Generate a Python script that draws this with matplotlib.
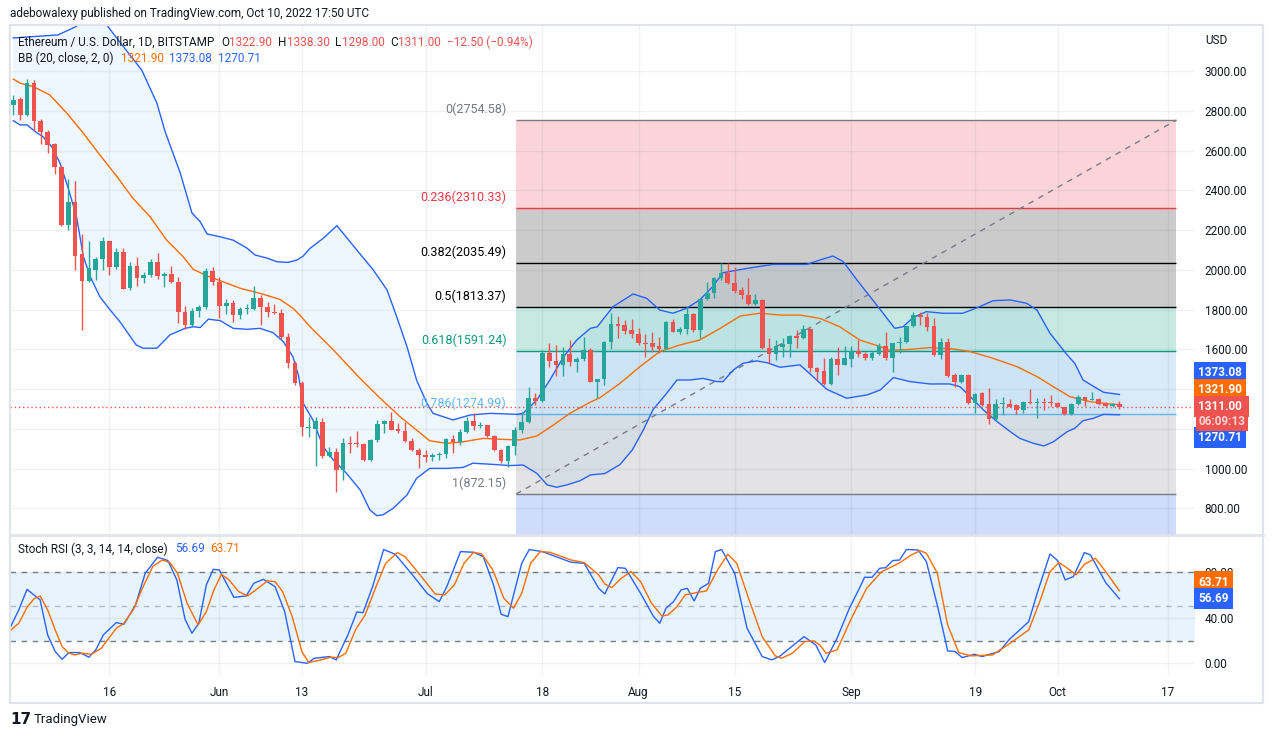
import matplotlib.pyplot as plt
import matplotlib.patches as mpatches
from matplotlib.lines import Line2D
import numpy as np
import pandas as pd

plt.rcParams["font.family"] = ["Roboto", "DejaVu Sans"]

W, H = 1273, 738
start = "2022-05-02"

# daily candles, 2 May .. 10 Oct 2022 (ETH/USD, Bitstamp)
opens = [2828, 2858, 2780, 2940, 2748, 2692, 2632, 2520, 2226, 2344,
         2080, 1946, 2000, 2055, 2146, 2017, 2090, 1910, 2020, 1957,
         1975, 2042, 1970, 1978, 1940, 1790, 1722, 1795, 1815, 1996,
         1940, 1818, 1832, 1772, 1802, 1805, 1858, 1812, 1790, 1785,
         1660, 1530, 1432, 1203, 1199, 1236, 1065, 1082, 993, 1128,
         1128, 1124, 1044, 1144, 1223, 1241, 1197, 1188, 1141, 1095,
         1068, 1058, 1066, 1073, 1149, 1132, 1186, 1240, 1213, 1217,
         1164, 1096, 1036, 1112, 1192, 1233, 1354, 1339, 1580, 1540,
         1520, 1578, 1538, 1552, 1597, 1438, 1450, 1639, 1728, 1723,
         1697, 1678, 1631, 1630, 1617, 1603, 1736, 1690, 1703, 1778,
         1698, 1854, 1886, 1961, 1986, 1936, 1897, 1876, 1829, 1849,
         1609, 1575, 1614, 1626, 1668, 1656, 1701, 1505, 1490, 1424,
         1552, 1522, 1553, 1592, 1577, 1555, 1577, 1617, 1555, 1631,
         1637, 1718, 1775, 1765, 1716, 1572, 1639, 1470, 1434, 1471,
         1332, 1378, 1325, 1248, 1324, 1327, 1320, 1295, 1337, 1329,
         1334, 1337, 1332, 1312, 1273, 1325, 1359, 1345, 1348, 1332,
         1315, 1322.9]
highs = [2880, 2870, 2963, 2955, 2760, 2705, 2640, 2530, 2458, 2448,
         2181, 2146, 2067, 2168, 2146, 2110, 2110, 2040, 2066, 1991,
         2055, 2085, 1990, 2020, 1966, 1818, 1807, 1824, 2010, 2013,
         1966, 1852, 1849, 1812, 1827, 1919, 1872, 1837, 1830, 1802,
         1681, 1540, 1440, 1261, 1261, 1253, 1110, 1102, 1152, 1166,
         1191, 1128, 1149, 1245, 1245, 1283, 1230, 1236, 1152, 1102,
         1093, 1077, 1085, 1152, 1169, 1199, 1261, 1278, 1233, 1220,
         1168, 1098, 1119, 1211, 1287, 1410, 1382, 1597, 1630, 1622,
         1614, 1647, 1563, 1664, 1605, 1452, 1642, 1782, 1768, 1748,
         1751, 1706, 1678, 1686, 1661, 1742, 1751, 1715, 1815, 1782,
         1857, 1941, 1966, 2033, 2033, 2017, 1916, 1958, 1877, 1854,
         1659, 1647, 1656, 1672, 1698, 1723, 1706, 1513, 1558, 1563,
         1610, 1617, 1617, 1647, 1585, 1590, 1631, 1689, 1631, 1661,
         1720, 1790, 1790, 1782, 1756, 1656, 1656, 1480, 1475, 1475,
         1380, 1387, 1404, 1349, 1362, 1349, 1323, 1340, 1399, 1354,
         1354, 1371, 1337, 1312, 1329, 1371, 1362, 1384, 1354, 1335,
         1330, 1338.3]
lows = [2780, 2755, 2775, 2700, 2632, 2590, 2485, 2220, 2200, 2000,
        1700, 1940, 1950, 2000, 1976, 2005, 1904, 1900, 1920, 1936,
        1966, 1955, 1912, 1933, 1731, 1701, 1716, 1765, 1803, 1924,
        1757, 1778, 1738, 1752, 1777, 1798, 1724, 1765, 1778, 1651,
        1505, 1421, 1166, 1160, 1015, 1052, 1060, 884, 943, 1077,
        1110, 1040, 1040, 1136, 1178, 1192, 1180, 1136, 1090, 1001,
        1035, 1040, 1043, 1052, 1077, 1119, 1178, 1194, 1205, 1157,
        1090, 1027, 1006, 1068, 1178, 1228, 1320, 1334, 1513, 1468,
        1468, 1516, 1488, 1540, 1436, 1354, 1421, 1600, 1659, 1676,
        1659, 1622, 1563, 1589, 1583, 1600, 1687, 1676, 1676, 1689,
        1659, 1849, 1857, 1950, 1928, 1882, 1854, 1824, 1824, 1602,
        1530, 1547, 1563, 1563, 1609, 1654, 1488, 1446, 1422, 1420,
        1471, 1520, 1513, 1560, 1545, 1548, 1572, 1548, 1488, 1584,
        1630, 1712, 1723, 1694, 1567, 1552, 1459, 1409, 1430, 1325,
        1282, 1317, 1223, 1241, 1270, 1309, 1273, 1282, 1325, 1256,
        1295, 1315, 1308, 1270, 1268, 1320, 1315, 1343, 1320, 1312,
        1312, 1298.0]
closes = [2857, 2780, 2940, 2748, 2692, 2630, 2520, 2226, 2344, 2072,
          1946, 2010, 2055, 2146, 2017, 2090, 1906, 2020, 1957, 1975,
          2042, 1968, 1980, 1940, 1790, 1722, 1795, 1815, 1996, 1940,
          1818, 1832, 1772, 1802, 1805, 1858, 1812, 1787, 1785, 1660,
          1530, 1432, 1211, 1207, 1241, 1065, 1082, 993, 1127, 1124,
          1122, 1044, 1144, 1223, 1241, 1196, 1188, 1141, 1094, 1068,
          1058, 1068, 1073, 1149, 1132, 1186, 1241, 1213, 1219, 1164,
          1096, 1036, 1112, 1192, 1233, 1354, 1339, 1580, 1540, 1520,
          1578, 1538, 1552, 1597, 1438, 1450, 1639, 1728, 1720, 1694,
          1678, 1631, 1628, 1614, 1603, 1736, 1690, 1703, 1778, 1698,
          1854, 1886, 1961, 1986, 1936, 1896, 1874, 1829, 1849, 1605,
          1575, 1617, 1625, 1668, 1656, 1701, 1505, 1488, 1424, 1550,
          1522, 1558, 1592, 1577, 1555, 1580, 1617, 1555, 1631, 1637,
          1718, 1773, 1763, 1714, 1572, 1639, 1468, 1434, 1471, 1332,
          1376, 1321, 1248, 1325, 1327, 1312, 1295, 1337, 1329, 1334,
          1329, 1329, 1312, 1273, 1325, 1359, 1345, 1348, 1325, 1315,
          1323.5, 1311.0]

# Bollinger Bands (20, 2): day index -> price
bb_upper_day = [0, 6.5, 9, 11.5, 13.6, 15.5, 18.7, 20.9, 22.1, 24.3,
                26, 27.2, 28.2, 30.1, 32, 34, 35.2, 36.9, 38.4, 40,
                41.3, 42.2, 43.2, 45.1, 47.1, 50, 52.4, 54.4, 55.8, 57.3,
                58.7, 60.2, 61.1, 64, 66.5, 69.4, 73.3, 74.2, 76.2, 78.1,
                80.1, 82, 84, 85, 87.3, 90.2, 92.2, 94.1, 96, 98,
                99.9, 101.8, 103.3, 106.8, 110.6, 115.5, 117.4, 119.3, 120.8, 122.8,
                124.7, 126.6, 128.3, 129.5, 131, 132.9, 135.3, 138.2, 140.3, 142.6,
                145.1, 147.5, 149, 150.9, 153.4, 154.5, 155.7, 157.7, 158.7, 161]
bb_upper = [3168, 3183, 3223, 3280, 3233, 3147, 3006, 2840, 2696, 2488,
            2287, 2243, 2181, 2167, 2150, 2110, 2075, 2060, 2041, 2038,
            2050, 2070, 2109, 2159, 2223, 2100, 2000, 1899, 1765, 1614,
            1446, 1329, 1278, 1245, 1270, 1278, 1273, 1278, 1345, 1446,
            1563, 1647, 1706, 1714, 1815, 1879, 1857, 1798, 1782, 1807,
            1849, 1916, 1986, 2008, 2028, 2028, 2050, 2070, 2042, 1949,
            1866, 1782, 1706, 1714, 1761, 1790, 1782, 1782, 1810, 1845,
            1849, 1832, 1798, 1681, 1572, 1530, 1446, 1404, 1384, 1373.08]
bb_mid_day = [0, 1, 2.9, 5.3, 7.8, 10.2, 12.6, 15.1, 17.4, 19.9,
              22.3, 24.7, 26.2, 28.2, 30.1, 33, 35.9, 38.8, 40.7, 41.7,
              43.2, 46.6, 50, 53.4, 56.3, 58.7, 60.6, 63.1, 65.5, 68.4,
              71.3, 73.7, 76.2, 78.6, 81, 84, 85.4, 88.3, 91.2, 94.1,
              97, 99.9, 102.9, 105.8, 108.7, 111.6, 114.5, 117.4, 120.3, 123.2,
              126.2, 127.6, 130.5, 133.4, 136.8, 139.3, 142.6, 146.1, 149, 151.4,
              153.8, 156.7, 159.6, 161]
bb_mid = [2961, 2940, 2923, 2881, 2789, 2688, 2579, 2469, 2361, 2268,
          2151, 2067, 2003, 1970, 1946, 1908, 1882, 1852, 1807, 1773,
          1714, 1597, 1471, 1354, 1261, 1194, 1140, 1127, 1135, 1152,
          1147, 1144, 1164, 1219, 1278, 1335, 1357, 1429, 1513, 1589,
          1622, 1647, 1706, 1768, 1782, 1773, 1773, 1756, 1714, 1647,
          1614, 1595, 1600, 1609, 1602, 1589, 1555, 1513, 1463, 1412,
          1362, 1337, 1325, 1321.90]
bb_lower_day = [0, 1, 2, 3.2, 4.3, 5.6, 6.8, 8, 9.2, 10.2,
                11.2, 12.6, 14.1, 15.5, 16.7, 17.9, 18.9, 20.9, 22.8, 25,
                26.2, 27.2, 28.4, 30.1, 32, 34, 35.9, 37.8, 39.3, 40.7,
                41.5, 42.2, 43.6, 45.1, 46.6, 48.5, 50.5, 51.9, 52.9, 53.8,
                55.3, 57.3, 58.7, 60.6, 63.1, 65.5, 66.9, 69.4, 72.3, 74.2,
                76.2, 77.7, 79.1, 80.6, 82.5, 84, 86.1, 88.3, 90.1, 91.7,
                93.1, 95.1, 96.6, 98.5, 100.4, 102.4, 103.3, 104.8, 106.2, 108.2,
                109.7, 111.6, 114.5, 116.4, 118.4, 121.3, 124.3, 126.2, 128.1, 130.5,
                133.4, 136.3, 137.8, 139.3, 141.2, 143.2, 145.1, 146.5, 148.5, 150,
                151.4, 153.4, 154.5, 155.7, 157.2, 158.7, 161]
bb_lower = [2751, 2730, 2730, 2696, 2671, 2620, 2537, 2411, 2268, 2067,
            1966, 1865, 1798, 1740, 1681, 1622, 1606, 1606, 1673, 1706,
            1714, 1710, 1752, 1745, 1706, 1701, 1706, 1684, 1639, 1563,
            1470, 1329, 1245, 1110, 1043, 976, 892, 792, 763, 767,
            800, 867, 951, 1001, 1001, 1006, 1027, 1022, 1015, 1018,
            976, 918, 906, 918, 939, 968, 975, 1020, 1094, 1194,
            1296, 1379, 1446, 1446, 1454, 1438, 1438, 1496, 1530, 1542,
            1533, 1510, 1522, 1463, 1399, 1354, 1371, 1396, 1458, 1438,
            1426, 1426, 1412, 1362, 1295, 1236, 1186, 1152, 1127, 1114,
            1135, 1186, 1203, 1241, 1253, 1273, 1270.71]

# Stoch RSI (3, 3, 14, 14): K (blue) and D (orange)
k_day = [-0.5, 0.8, 2, 3.9, 5, 6.1, 7.1, 8.1, 9.7, 11,
         12, 13.1, 15, 16.1, 17.8, 19.2, 21, 22.5, 23.8, 25,
         26, 27, 28.1, 29.1, 30, 32.1, 33.9, 35, 36.4, 38.1,
         39.5, 41, 42.8, 43.8, 46, 47, 48.7, 50, 50.9, 52.3,
         53.9, 55.6, 58.1, 60.3, 62, 63.1, 65.1, 67, 68.4, 69.9,
         71, 72, 74, 75.1, 77, 81.2, 83.1, 85.2, 86.1, 88,
         89.1, 91.3, 93.2, 94.1, 95, 96.1, 97.2, 98.1, 99.1, 100,
         101.2, 102.2, 103.1, 105, 106.8, 109, 110.4, 111.5, 113.4, 115.1,
         116.8, 118.1, 119.9, 121.7, 123.2, 123.9, 125, 126.1, 127, 128,
         129, 130, 131.7, 132.9, 134.6, 136, 137.1, 138.1, 139.9, 141,
         143.5, 145, 147.8, 149.1, 150.9, 152, 153.1, 154.3, 155.9, 156.8,
         159, 161]
k_val = [30.8, 46.9, 65, 55.7, 24.9, 10.3, 3.5, 9.4, 9.4, 5.3,
         11.7, 24.9, 35.8, 34.3, 51.3, 79.1, 93.2, 90.3, 73.3, 38.7,
         26.4, 35.2, 68.9, 82.6, 82, 58, 59.2, 70.3, 73.8, 67.4,
         45.4, 1.5, 0, 4.4, 5.9, 3, 24.9, 45.1, 44.5, 67.4,
         100, 95.8, 77.7, 61, 54.2, 67.4, 98.2, 97.6, 93.8, 68.9,
         43.1, 41, 87.9, 100, 98.2, 88.8, 87.9, 65.9, 61, 84.1,
         83.5, 61.5, 41, 35.2, 48.4, 54.2, 64.5, 65.9, 54.8, 65.9,
         70.3, 98.2, 100, 79.1, 30.8, 5.9, 3, 5.9, 15.2, 23.4,
         16.1, 0.6, 22, 48.4, 66.5, 75.6, 75.6, 83.5, 84.1, 90.3,
         90.8, 100, 99.6, 89.4, 48.4, 10.9, 10.3, 5, 7.9, 5.9,
         10.3, 21.1, 36.6, 63, 96.1, 90.3, 73.3, 76.2, 97.3, 95.2,
         70.9, 56.69]
d_day = [-0.5, 0.8, 2, 3, 3.9, 5, 6.1, 7.1, 8, 8.9,
         10, 11.4, 12.8, 13.9, 15, 16.1, 17.5, 18.9, 20.3, 21.7,
         22.8, 23.9, 25.3, 26.9, 28.1, 29.2, 30.3, 31.4, 32.8, 34.1,
         35.3, 37, 38.1, 39.2, 40.6, 42, 43, 44.8, 46.2, 47.3,
         48.4, 49.8, 51.2, 52.8, 54.2, 55.9, 57, 59.2, 61.4, 62.8,
         64.2, 65.6, 67, 68.2, 69.8, 71.4, 72.8, 74, 75.3, 76.7,
         78.1, 81.2, 83.1, 85.2, 86.1, 87.1, 88.5, 89.9, 91.3, 92.9,
         94.4, 95.3, 96.6, 97.8, 99.4, 100.9, 102.5, 104, 105.3, 107.1,
         109, 110.9, 111.8, 113.4, 115.2, 116.5, 117.4, 118.3, 119.9, 122,
         124.2, 126.4, 128.9, 130.7, 132, 132.9, 134.5, 136, 137.6, 139.4,
         142.5, 144.4, 147.8, 149.4, 150.9, 152.2, 153.1, 154.7, 155.9, 157.5,
         159, 161]
d_val = [28.4, 35.2, 49.2, 56.6, 59.2, 46.9, 29.3, 14.7, 9.4, 7.3,
         8.8, 7.9, 13.2, 22, 30.8, 35.2, 47.5, 67.4, 85, 90.8,
         88.5, 79.1, 52.7, 33.7, 45.4, 64.5, 78.2, 73.3, 63, 59.2,
         64.5, 72.4, 71.8, 63, 41, 10.3, 0.6, 3, 5.3, 5,
         8.8, 29.3, 42.5, 67.4, 87.9, 97.3, 93.8, 77.7, 61, 60.1,
         68.9, 87.9, 97.6, 96.1, 82.1, 57.1, 48.4, 61.5, 87.9, 98.2,
         97.6, 90.8, 88.5, 77.7, 69.7, 66.5, 74.7, 80.6, 71.8, 52.7,
         41.6, 42.5, 49.8, 60.1, 62.1, 63.6, 82.1, 95.8, 87.9, 55.7,
         23.4, 6.5, 4.4, 8.8, 19.1, 19.6, 16.1, 8.8, 11.7, 39.6,
         65.9, 80.6, 87.9, 95.2, 99, 96.7, 79.1, 33.7, 9.4, 6.5,
         7.3, 14.7, 29.3, 54.2, 80.6, 88.5, 85, 77.7, 87, 92.3,
         80.6, 63.71]

# Fibonacci retracement drawing
fib_levels = [0, 0.236, 0.382, 0.5, 0.618, 0.786, 1]
fib_prices = [2754.58, 2310.33, 2035.49, 1813.37, 1591.24, 1274.99, 872.15]
fib_ext_price = 360.13
fib_x0, fib_x1 = 73.2, 169.3
fib_fill = ["#fad4d8", "#cbcbcb", "#cbcbcb", "#c8e9e2", "#dbeaf8", "#e3e3e5", "#d0dcfb"]
fib_line = ["#787b86", "#f23645", "#000000", "#000000", "#089981", "#64b5f6", "#787b86"]

tick_dates = ["2022-05-16", "2022-06-01", "2022-06-13", "2022-07-01", "2022-07-18",
              "2022-08-01", "2022-08-15", "2022-09-01", "2022-09-19", "2022-10-01",
              "2022-10-17"]
tick_labels = ["16", "Jun", "13", "Jul", "18", "Aug", "15", "Sep", "19", "Oct", "17"]
countdown = "06:09:13"

DARK = "#131722"
RED = "#ef5350"
GREEN = "#26a69a"
BLUE = "#2962ff"
ORANGE = "#ff6d00"
GRID = "#2a2e39"

days = np.arange(len(closes))
tick_x = (pd.to_datetime(tick_dates) - pd.Timestamp(start)).days.values

fig = plt.figure(figsize=(W / 100, H / 100), dpi=100)
ax = fig.add_axes([10 / W, 204 / H, 1185 / W, 509 / H])
ax2 = fig.add_axes([10 / W, 62 / H, 1185 / W, 140 / H])

for a in (ax, ax2):
    for s in a.spines.values():
        s.set_visible(False)
    a.set_xlim(-0.48, 172.0)
    a.set_xticks(tick_x)
    a.set_axisbelow(True)
    a.grid(True, color=GRID, alpha=0.06, lw=1)
    a.yaxis.tick_right()
    a.tick_params(axis="both", length=0, labelsize=8.5, labelcolor=DARK)
    a.tick_params(axis="y", pad=7)

# ---- main pane ----
ax.set_ylim(670.7, 3233)
yt = np.arange(800, 3001, 200)
ax.set_yticks(yt)
# 1400 and 1200 sit under the last-value badges, as in the original
ax.set_yticklabels(["" if v in (1200, 1400) else f"{v:.2f}" for v in yt])
ax.tick_params(axis="x", labelbottom=False)

bounds = fib_prices + [fib_ext_price]
for k in range(len(fib_fill)):
    ax.fill_between([fib_x0, fib_x1], bounds[k], bounds[k + 1], color=fib_fill[k], lw=0, zorder=0.2)
for lvl, p, col in zip(fib_levels, fib_prices, fib_line):
    ax.hlines(p, fib_x0, fib_x1, color=col, lw=1, zorder=1)
    ax.annotate(f"{lvl:g}({p:.2f})", xy=(fib_x0, p), xytext=(-7, 3), textcoords="offset points",
                ha="right", va="bottom", fontsize=9, color=col, zorder=4)
ax.plot([fib_x0, fib_x1], [fib_prices[-1], fib_prices[0]], color="#787b86", lw=1,
        ls=(0, (4, 4)), zorder=1.6)

ax.fill(np.r_[bb_upper_day, bb_lower_day[::-1]], np.r_[bb_upper, bb_lower[::-1]],
        color="#2196f3", alpha=0.07, lw=0, zorder=1.5)
ax.plot(bb_upper_day, bb_upper, color=BLUE, lw=1, zorder=2)
ax.plot(bb_lower_day, bb_lower, color=BLUE, lw=1, zorder=2)
ax.plot(bb_mid_day, bb_mid, color=ORANGE, lw=1, zorder=2)

ax.axhline(closes[-1], color=RED, lw=1, ls=(0, (1, 2)), zorder=2.5)

o = np.array(opens)
c = np.array(closes)
col = np.where(c >= o, GREEN, RED)
ax.vlines(days, lows, highs, colors=col, lw=1, zorder=3)
ax.bar(days, np.maximum(np.abs(c - o), 5), bottom=np.minimum(o, c), width=0.68,
       color=col, lw=0, zorder=3.1)

# ---- stoch RSI pane ----
ax2.set_ylim(-11.2, 111.9)
ax2.set_yticks([0, 40, 80])
ax2.set_yticklabels(["0.00", "40.00", "80.00"])
ax2.set_xticklabels(tick_labels)
ax2.tick_params(axis="x", pad=7)
ax2.axhspan(20, 80, color="#2196f3", alpha=0.1, lw=0, zorder=0.3)
ax2.axhline(80, color="#787b86", lw=1, ls=(0, (4, 4)), zorder=1)
ax2.axhline(20, color="#787b86", lw=1, ls=(0, (4, 4)), zorder=1)
ax2.axhline(50, color="#787b86", alpha=0.5, lw=1, ls=(0, (4, 4)), zorder=1)
ax2.plot(k_day, k_val, color=BLUE, lw=1, zorder=2)
ax2.plot(d_day, d_val, color=ORANGE, lw=1, zorder=2)


def badge(axis, txt, val, color, dy, tcolor="white", pad=0.35, z=10):
    axis.annotate(txt, xy=(1, val), xycoords=axis.get_yaxis_transform(),
                  xytext=(2.5, dy), textcoords="offset points", ha="left", va="center",
                  fontsize=8.5, fontweight="bold", color=tcolor,
                  bbox=dict(boxstyle=f"square,pad={pad}", fc=color, ec="none"),
                  annotation_clip=False, zorder=z)


last = closes[-1]
badge(ax, f"{bb_upper[-1]:.2f}", bb_upper[-1], BLUE, 15.5)
badge(ax, f"{bb_mid[-1]:.2f}", bb_mid[-1], ORANGE, 10.6)
badge(ax, f"{last:.2f} ", last, RED, 0)
badge(ax, countdown, last, RED, -10.8, tcolor="#fbd3d3", pad=0.2, z=11)
badge(ax, f"{bb_lower[-1]:.2f}", bb_lower[-1], BLUE, -16.6)
badge(ax2, f"{d_val[-1]:.2f}", d_val[-1], ORANGE, 6.3)
badge(ax2, f"{k_val[-1]:.2f}", k_val[-1], BLUE, 0)

# ---- texts ----
renderer = fig.canvas.get_renderer()


def row(x_px, y_px, parts, size=8.5):
    x = x_px
    for txt, color, gap in parts:
        t = fig.text(x / W, 1 - y_px / H, txt, color=color, fontsize=size, va="center", ha="left", zorder=20)
        x += t.get_window_extent(renderer).width + gap


chg = closes[-1] - closes[-2]
pct = chg / closes[-2] * 100
row(18, 42, [("Ethereum / U.S. Dollar, 1D, BITSTAMP", DARK, 7),
             ("O", DARK, 0), (f"{opens[-1]:.2f}", RED, 6),
             ("H", DARK, 0), (f"{highs[-1]:.2f}", RED, 6),
             ("L", DARK, 0), (f"{lows[-1]:.2f}", RED, 6),
             ("C", DARK, 0), (f"{closes[-1]:.2f}", RED, 6),
             (f"{chg:.2f} ({pct:.2f}%)".replace("-", "\u2212"), RED, 0)])
row(18, 58, [("BB (20, close, 2, 0)", DARK, 7), (f"{bb_mid[-1]:.2f}", ORANGE, 6),
             (f"{bb_upper[-1]:.2f}", BLUE, 6), (f"{bb_lower[-1]:.2f}", BLUE, 0)])
row(18, 549, [("Stoch RSI (3, 3, 14, 14, close)", DARK, 7), (f"{k_val[-1]:.2f}", BLUE, 6),
              (f"{d_val[-1]:.2f}", ORANGE, 0)])

fig.text(1205 / W, 1 - 40 / H, "USD", fontsize=8.5, color=DARK, va="center")
fig.text(10 / W, 1 - 14 / H, "adebowalexy published on TradingView.com, Oct 10, 2022 17:50 UTC",
         fontsize=8.5, color=DARK, va="center")
fig.text(10 / W, 1 - 720 / H, "17", fontsize=11, fontweight="heavy", family="DejaVu Sans",
         color=DARK, va="center")
fig.text(34 / W, 1 - 720 / H, "TradingView", fontsize=9.5, color=DARK, va="center")

# frame and pane separator
fig.add_artist(mpatches.Rectangle((9.5 / W, 1 - 703 / H), 1253.5 / W, 678 / H, transform=fig.transFigure,
                                  fill=False, ec="#e0e3eb", lw=1.5))
fig.add_artist(Line2D([9.5 / W, 1263 / W], [1 - 535 / H, 1 - 535 / H], transform=fig.transFigure,
                      color="#e0e3eb", lw=2))

fig.savefig("out.png", dpi=100, facecolor="white")
